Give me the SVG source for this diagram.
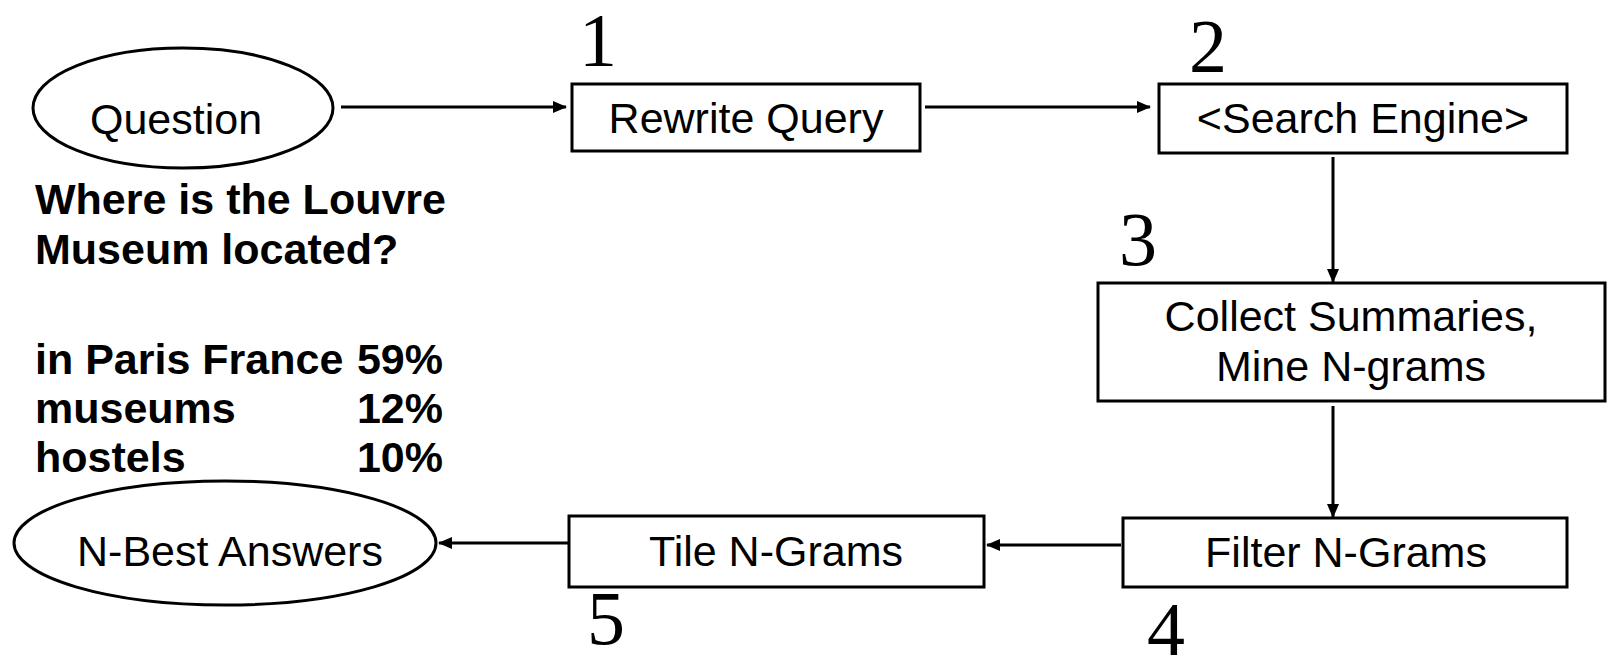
<svg xmlns="http://www.w3.org/2000/svg" width="1608" height="658" viewBox="0 0 1608 658">
<style>
.shape{fill:#fff;stroke:#000;stroke-width:3}
.lbl{font-family:"Liberation Sans",Arial,sans-serif;font-size:43px;fill:#000;text-anchor:middle}
.bold{font-family:"Liberation Sans",Arial,sans-serif;font-size:43px;font-weight:bold;fill:#000}
.num{font-family:"Liberation Serif","Times New Roman",serif;font-size:76px;fill:#000;text-anchor:middle}
.conn{stroke:#000;stroke-width:3;fill:none;marker-end:url(#ah)}
</style>
<defs>
<marker id="ah" markerUnits="userSpaceOnUse" markerWidth="14" markerHeight="12" refX="13" refY="6" orient="auto">
<path d="M0,0 L14,6 L0,12 z" fill="#000"/>
</marker>
</defs>
<rect width="1608" height="658" fill="#fff"/>
<g id="connectors">
<line class="conn" x1="341" y1="107" x2="566" y2="107"/>
<line class="conn" x1="925" y1="107" x2="1150" y2="107"/>
<line class="conn" x1="1333" y1="157" x2="1333" y2="282"/>
<line class="conn" x1="1333" y1="406" x2="1333" y2="517"/>
<line class="conn" x1="1121" y1="545" x2="987" y2="545"/>
<line class="conn" x1="568" y1="543" x2="439" y2="543"/>
</g>
<g id="question">
<ellipse class="shape" cx="183" cy="108" rx="150" ry="60"/>
<text class="lbl" x="176" y="134">Question</text>
</g>
<g id="rewrite">
<rect class="shape" x="572" y="84" width="348" height="67"/>
<text class="lbl" x="746" y="133">Rewrite Query</text>
</g>
<g id="search">
<rect class="shape" x="1159" y="84" width="408" height="69"/>
<text class="lbl" x="1363" y="133">&lt;Search Engine&gt;</text>
</g>
<g id="collect">
<rect class="shape" x="1098" y="283" width="507" height="118"/>
<text class="lbl" x="1351" y="331">Collect Summaries,</text>
<text class="lbl" x="1351" y="381">Mine N-grams</text>
</g>
<g id="filter">
<rect class="shape" x="1123" y="518" width="444" height="69"/>
<text class="lbl" x="1346" y="567">Filter N-Grams</text>
</g>
<g id="tile">
<rect class="shape" x="569" y="516" width="415" height="71"/>
<text class="lbl" x="776" y="566">Tile N-Grams</text>
</g>
<g id="nbest">
<ellipse class="shape" cx="225" cy="543" rx="211" ry="62"/>
<text class="lbl" x="230" y="566">N-Best Answers</text>
</g>
<g id="numbers">
<text class="num" x="598" y="66">1</text>
<text class="num" x="1208" y="72">2</text>
<text class="num" x="1138" y="265">3</text>
<text class="num" x="1166" y="655">4</text>
<text class="num" x="606" y="644">5</text>
</g>
<g id="example">
<text class="bold" x="35" y="214">Where is the Louvre</text>
<text class="bold" x="35" y="264">Museum located?</text>
<text class="bold" x="35" y="374">in Paris France</text>
<text class="bold" x="443" y="374" text-anchor="end">59%</text>
<text class="bold" x="35" y="423">museums</text>
<text class="bold" x="443" y="423" text-anchor="end">12%</text>
<text class="bold" x="35" y="472">hostels</text>
<text class="bold" x="443" y="472" text-anchor="end">10%</text>
</g>
</svg>
